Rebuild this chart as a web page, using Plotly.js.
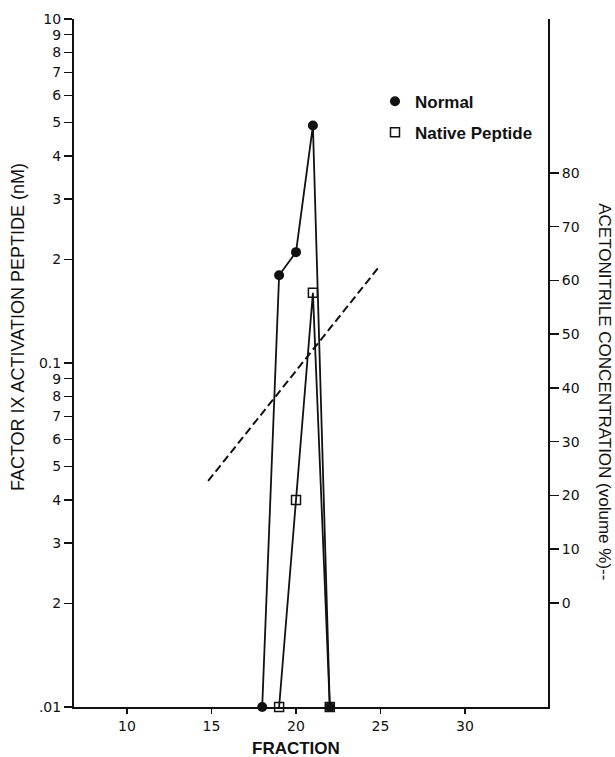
<!DOCTYPE html>
<html>
<head>
<meta charset="utf-8">
<script src="https://cdn.plot.ly/plotly-3.0.1.min.js"></script>
<style>html,body{margin:0;padding:0;background:#fff;}#chart{width:615px;height:757px;}</style>
</head>
<body>
<div id="chart"></div>
<script>
// Data
var normalFraction = [18, 19, 20, 21, 22];
var normalConc = [0.01, 0.18, 0.21, 0.49, 0.01];
var nativeFraction = [19, 20, 21, 22];
var nativeConc = [0.01, 0.04, 0.16, 0.01];
var gradientFraction = [14.8, 24.9];
var gradientAcetonitrile = [22.7, 62.5];

var xTicks = [10, 15, 20, 25, 30];
var yTickVals = [0.01,0.02,0.03,0.04,0.05,0.06,0.07,0.08,0.09,0.1,0.2,0.3,0.4,0.5,0.6,0.7,0.8,0.9,1.0];
var yTickText = ['.01','2','3','4','5','6','7','8','9','0.1','2','3','4','5','6','7','8','9','10'];
var y2Ticks = [0, 10, 20, 30, 40, 50, 60, 70, 80];

var ink = '#111';
var tickFont = {family: 'DejaVu Sans, Arial, sans-serif', size: 14, color: ink};
var titleFont = {family: 'Liberation Sans, Arial, sans-serif', size: 18, color: ink};

var traces = [
  {x: normalFraction, y: normalConc, mode: 'lines', line: {color: ink, width: 1.8},
   showlegend: false, cliponaxis: false, hoverinfo: 'skip'},
  {x: nativeFraction, y: nativeConc, mode: 'lines', line: {color: ink, width: 1.8},
   showlegend: false, cliponaxis: false, hoverinfo: 'skip'},
  {x: gradientFraction, y: gradientAcetonitrile, yaxis: 'y2', mode: 'lines',
   line: {color: ink, width: 2, dash: '8px,4px'}, showlegend: false},
  {x: normalFraction, y: normalConc, mode: 'markers', name: 'Normal', legendgroup: 'a',
   marker: {symbol: 'circle', size: 10, color: ink}, cliponaxis: false},
  {x: nativeFraction, y: nativeConc, mode: 'markers', name: 'Native Peptide', legendgroup: 'b',
   marker: {symbol: 'square-open', size: 9, color: ink, line: {color: ink, width: 1.5}}, cliponaxis: false}
];

var layout = {
  width: 615, height: 757,
  margin: {l: 74, r: 67, t: 19, b: 50},
  paper_bgcolor: '#fff', plot_bgcolor: '#fff',
  showlegend: true,
  legend: {x: 0.635, y: 0.906, xanchor: 'left', yanchor: 'top', traceorder: 'grouped',
           tracegroupgap: 6, itemwidth: 30,
           font: {family: 'Liberation Sans, Arial, sans-serif', size: 17, color: ink, weight: 'bold'},
           bgcolor: 'rgba(0,0,0,0)'},
  xaxis: {range: [6.864, 34.91], tickvals: xTicks, ticks: 'outside', ticklen: 5, tickwidth: 1.5,
          tickcolor: ink, showline: true, linewidth: 2, linecolor: ink, showgrid: false,
          zeroline: false, tickfont: tickFont},
  yaxis: {type: 'log', range: [-2, 0], tickvals: yTickVals, ticktext: yTickText, ticks: 'outside',
          ticklen: 8, tickwidth: 1.5, tickcolor: ink, showline: true, linewidth: 2, linecolor: ink,
          showgrid: false, zeroline: false, tickfont: tickFont},
  yaxis2: {overlaying: 'y', side: 'right', range: [-19.35, 108.65], tickvals: y2Ticks, ticks: 'outside',
           ticklen: 9, tickwidth: 1.5, tickcolor: ink, showline: true, linewidth: 2, linecolor: ink,
           showgrid: false, zeroline: false, tickfont: tickFont},
  annotations: [
    {text: 'FACTOR IX ACTIVATION PEPTIDE (nM)', xref: 'paper', yref: 'paper', x: -0.118, y: 0.5523,
     xanchor: 'center', yanchor: 'middle', textangle: -90, showarrow: false, font: titleFont},
    {text: 'ACETONITRILE CONCENTRATION (volume %)--', xref: 'paper', yref: 'paper', x: 1.1203, y: 0.459,
     xanchor: 'center', yanchor: 'middle', textangle: 90, showarrow: false,
     font: {family: 'Liberation Sans, Arial, sans-serif', size: 17, color: ink}},
    {text: 'FRACTION', xref: 'paper', yref: 'paper', x: 0.468, y: -0.0596,
     xanchor: 'center', yanchor: 'middle', showarrow: false,
     font: {family: 'Liberation Sans, Arial, sans-serif', size: 17, color: ink, weight: 'bold'}}
  ]
};

Plotly.newPlot('chart', traces, layout, {staticPlot: true, displayModeBar: false});
</script>
</body>
</html>
